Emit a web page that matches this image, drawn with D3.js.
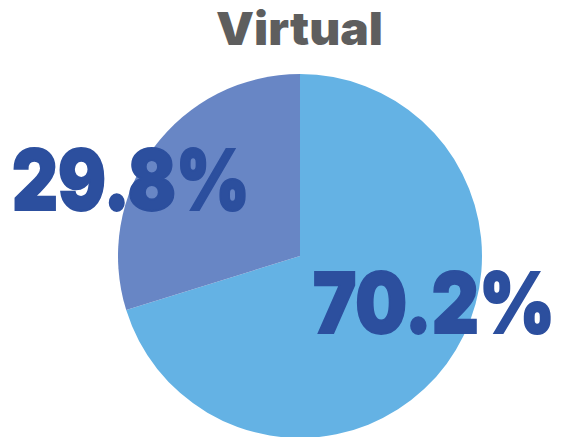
<!DOCTYPE html>
<html>
<head>
<meta charset="utf-8">
<script src="https://cdn.jsdelivr.net/npm/d3@7"></script>
<style>
  body { margin: 0; background: #fff; }
  text { font-family: "Inter", "Lato", "DejaVu Sans", sans-serif; }
</style>
</head>
<body>
<svg id="chart"></svg>
<script>
// data
var categories = ['Yes', 'No'];
var values = [70.2, 29.8];
var labels = ['70.2%', '29.8%'];
var colors = ['#64B2E4', '#6886C5'];

var width = 563, height = 437;
var cx = 300, cy = 256, r = 182;

var svg = d3.select('#chart')
    .attr('width', width)
    .attr('height', height);

svg.append('text')
    .attr('x', 216)
    .attr('y', 45)
    .attr('textLength', 167)
    .attr('lengthAdjust', 'spacingAndGlyphs')
    .attr('font-size', 46)
    .attr('font-weight', 900)
    .attr('fill', '#5E5E5E')
    .text('Virtual');

var arcs = d3.pie().sort(null).value(d => d)(values);
var arc = d3.arc().innerRadius(0).outerRadius(r);

var g = svg.append('g').attr('transform', `translate(${cx},${cy})`);

g.selectAll('path')
  .data(arcs)
  .enter()
  .append('path')
    .attr('d', arc)
    .attr('fill', (d, i) => colors[i]);

// label positions (page coords, left x / baseline / width)
var labelPos = [[313, 333, 242], [12, 210, 238]];

svg.selectAll('.lbl')
  .data(labels)
  .enter()
  .append('text')
    .classed('lbl', true)
    .attr('x', (d, i) => labelPos[i][0])
    .attr('y', (d, i) => labelPos[i][1])
    .attr('textLength', (d, i) => labelPos[i][2])
    .attr('lengthAdjust', 'spacingAndGlyphs')
    .attr('font-size', 84)
    .attr('font-weight', 900)
    .attr('fill', '#2C4F9E')
    .attr('stroke', '#2C4F9E')
    .attr('stroke-width', 2)
    .text(d => d);
</script>
</body>
</html>
